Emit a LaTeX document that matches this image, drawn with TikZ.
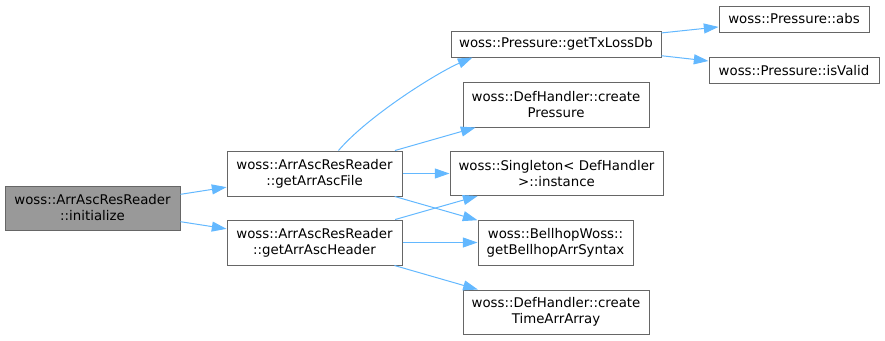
\documentclass[tikz,border=0pt]{standalone}
\usepackage{fontspec}
\setmainfont{DejaVu Sans}
\usetikzlibrary{arrows.meta,calc}
\definecolor{edgeblue}{HTML}{63B8FF}
\definecolor{boxgray}{HTML}{666666}
\definecolor{rootgray}{HTML}{999999}
\begin{document}
\begin{tikzpicture}[x=0.75pt,y=-0.75pt,
  box/.style={draw=boxgray,line width=0.75pt,fill=white,inner sep=0pt,align=center,font=\fontsize{10}{12}\selectfont},
  call/.style={draw=edgeblue,line width=0.75pt,-{Triangle[length=11pt,width=7.5pt]}}]
\useasboundingbox (0,0) rectangle (885,340);
\node[box,fill=rootgray,minimum width=131.25pt,minimum height=33pt] (init) at (92.5,208) {woss::ArrAscResReader\\::initialize};
\node[box,minimum width=131.25pt,minimum height=33.75pt] (file) at (314.5,173.5) {woss::ArrAscResReader\\::getArrAscFile};
\node[box,minimum width=131.25pt,minimum height=33.75pt] (header) at (314.5,242.5) {woss::ArrAscResReader\\::getArrAscHeader};
\node[box,minimum width=157.5pt,minimum height=19.5pt] (txloss) at (556,44) {woss::Pressure::getTxLossDb};
\node[box,minimum width=112.5pt,minimum height=19.5pt] (abs) at (794,19) {woss::Pressure::abs};
\node[box,minimum width=127.5pt,minimum height=19.5pt] (isvalid) at (794,70.5) {woss::Pressure::isValid};
\node[box,minimum width=139.5pt,minimum height=33.75pt] (pressure) at (556,104.5) {woss::DefHandler::create\\Pressure};
\node[box,minimum width=159.75pt,minimum height=33pt] (singleton) at (556.5,173.5) {woss::Singleton< DefHandler\\>::instance};
\node[box,minimum width=116.25pt,minimum height=33.75pt] (bellhop) at (555.5,242.5) {woss::BellhopWoss::\\getBellhopArrSyntax};
\node[box,minimum width=139.5pt,minimum height=33pt] (timearr) at (556,312) {woss::DefHandler::create\\TimeArrArray};
\draw[call] (init) -- (file);
\draw[call] (init) -- (header);
\draw[call] ($(file.north)+(24,0)$) .. controls +(30,-35) and +(-35,15) .. ($(txloss.south west)+(22,0)$);
\draw[call] (file) -- (pressure);
\draw[call] (file) -- (singleton);
\draw[call] (file) -- (bellhop);
\draw[call] (header) -- (singleton);
\draw[call] (header) -- (bellhop);
\draw[call] (header) -- (timearr);
\draw[call] (txloss) -- (abs);
\draw[call] (txloss) -- (isvalid);
\end{tikzpicture}
\end{document}
